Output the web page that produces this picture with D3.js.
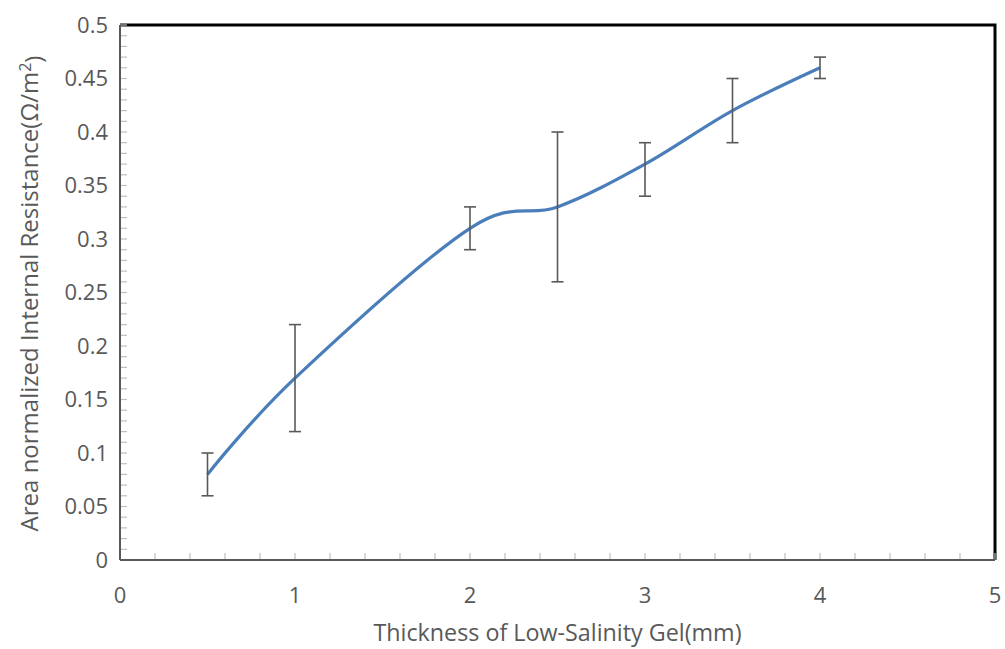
<!DOCTYPE html>
<html>
<head>
<meta charset="utf-8">
<script src="https://cdn.jsdelivr.net/npm/d3@7"></script>
<style>
  body { margin: 0; background: #fff; }
  text { font-family: "Open Sans", sans-serif; fill: #595959; }
</style>
</head>
<body>
<svg id="svg"></svg>
<script>

const width = 1005;
const height = 649;

// data
const thickness = [0.5, 1, 2, 2.5, 3, 3.5, 4];
const resistance = [0.08, 0.17, 0.31, 0.33, 0.37, 0.42, 0.46];
const errHigh = [0.10, 0.22, 0.33, 0.40, 0.39, 0.45, 0.47];
const errLow = [0.06, 0.12, 0.29, 0.26, 0.34, 0.39, 0.45];
const xTicks = [0, 1, 2, 3, 4, 5];
const yTicks = [0, 0.05, 0.1, 0.15, 0.2, 0.25, 0.3, 0.35, 0.4, 0.45, 0.5];

const margin = { left: 120, right: 10, top: 25, bottom: 89 };

const svg = d3.select("#svg")
			.attr("width", width)
			.attr("height", height);

const x = d3.scaleLinear().domain([0, 5]).range([margin.left, width - margin.right]);
const y = d3.scaleLinear().domain([0, 0.5]).range([height - margin.bottom, margin.top]);

// frame: top and right black
svg.append("path")
	.attr("d", `M${x(0)},${y(0.5)} H${x(5)} V${y(0)}`)
	.attr("fill", "none")
	.attr("stroke", "#000")
	.attr("stroke-width", 3);

// minor ticks
svg.append("g").selectAll("line")
	.data(d3.range(0, 51).map(i => i / 100))
	.enter().append("line")
	.attr("x1", x(0)).attr("x2", x(0) + 7)
	.attr("y1", d => y(d)).attr("y2", d => y(d))
	.attr("stroke", "#bfbfbf").attr("stroke-width", 1.2);

svg.append("g").selectAll("line")
	.data(d3.range(0, 26).map(i => i / 5))
	.enter().append("line")
	.attr("x1", d => x(d)).attr("x2", d => x(d))
	.attr("y1", y(0)).attr("y2", y(0) - 7)
	.attr("stroke", "#bfbfbf").attr("stroke-width", 1.2);

// axes lines
svg.append("line")
	.attr("x1", x(0)).attr("x2", x(0))
	.attr("y1", y(0)).attr("y2", y(0.5))
	.attr("stroke", "#595959").attr("stroke-width", 2);
svg.append("line")
	.attr("x1", x(0)).attr("x2", x(5))
	.attr("y1", y(0)).attr("y2", y(0))
	.attr("stroke", "#595959").attr("stroke-width", 2);

// tick labels
svg.append("g").selectAll("text")
	.data(yTicks)
	.enter().append("text")
	.attr("x", x(0) - 12)
	.attr("y", d => y(d))
	.attr("dy", "0.35em")
	.attr("text-anchor", "end")
	.style("font-size", "22px")
	.text(d => d);

svg.append("g").selectAll("text")
	.data(xTicks)
	.enter().append("text")
	.attr("x", d => x(d))
	.attr("y", y(0) + 43)
	.attr("text-anchor", "middle")
	.style("font-size", "22px")
	.text(d => d);

// axis titles
svg.append("text")
	.attr("x", (x(0) + x(5)) / 2)
	.attr("y", 641)
	.attr("text-anchor", "middle")
	.style("font-size", "23.3px")
	.text("Thickness of Low-Salinity Gel(mm)");

const yTitle = svg.append("text")
	.attr("transform", `translate(38,${(y(0) + y(0.5)) / 2 + 1}) rotate(-90)`)
	.attr("text-anchor", "middle")
	.style("font-size", "24px");
yTitle.append("tspan").text("Area normalized Internal Resistance(Ω/m");
yTitle.append("tspan").attr("dy", "-0.45em").style("font-size", "16px").text("2");
yTitle.append("tspan").attr("dy", "0.45em").text(")");

// smoothed line
const line = d3.line()
	.x((d, i) => x(thickness[i]))
	.y(d => y(d))
	.curve(d3.curveCardinal.tension(0));

svg.append("path")
	.datum(resistance)
	.attr("d", line)
	.attr("fill", "none")
	.attr("stroke", "#4a7ebb")
	.attr("stroke-width", 3.2);

// error bars
const bars = svg.append("g")
	.attr("stroke", "#595959")
	.attr("stroke-width", 1.6);

thickness.forEach(function(t, i) {
	bars.append("line")
		.attr("x1", x(t)).attr("x2", x(t))
		.attr("y1", y(errLow[i])).attr("y2", y(errHigh[i]));
	[errLow[i], errHigh[i]].forEach(function(v) {
		bars.append("line")
			.attr("x1", x(t) - 6).attr("x2", x(t) + 6)
			.attr("y1", y(v)).attr("y2", y(v));
	});
});

</script>
</body>
</html>
